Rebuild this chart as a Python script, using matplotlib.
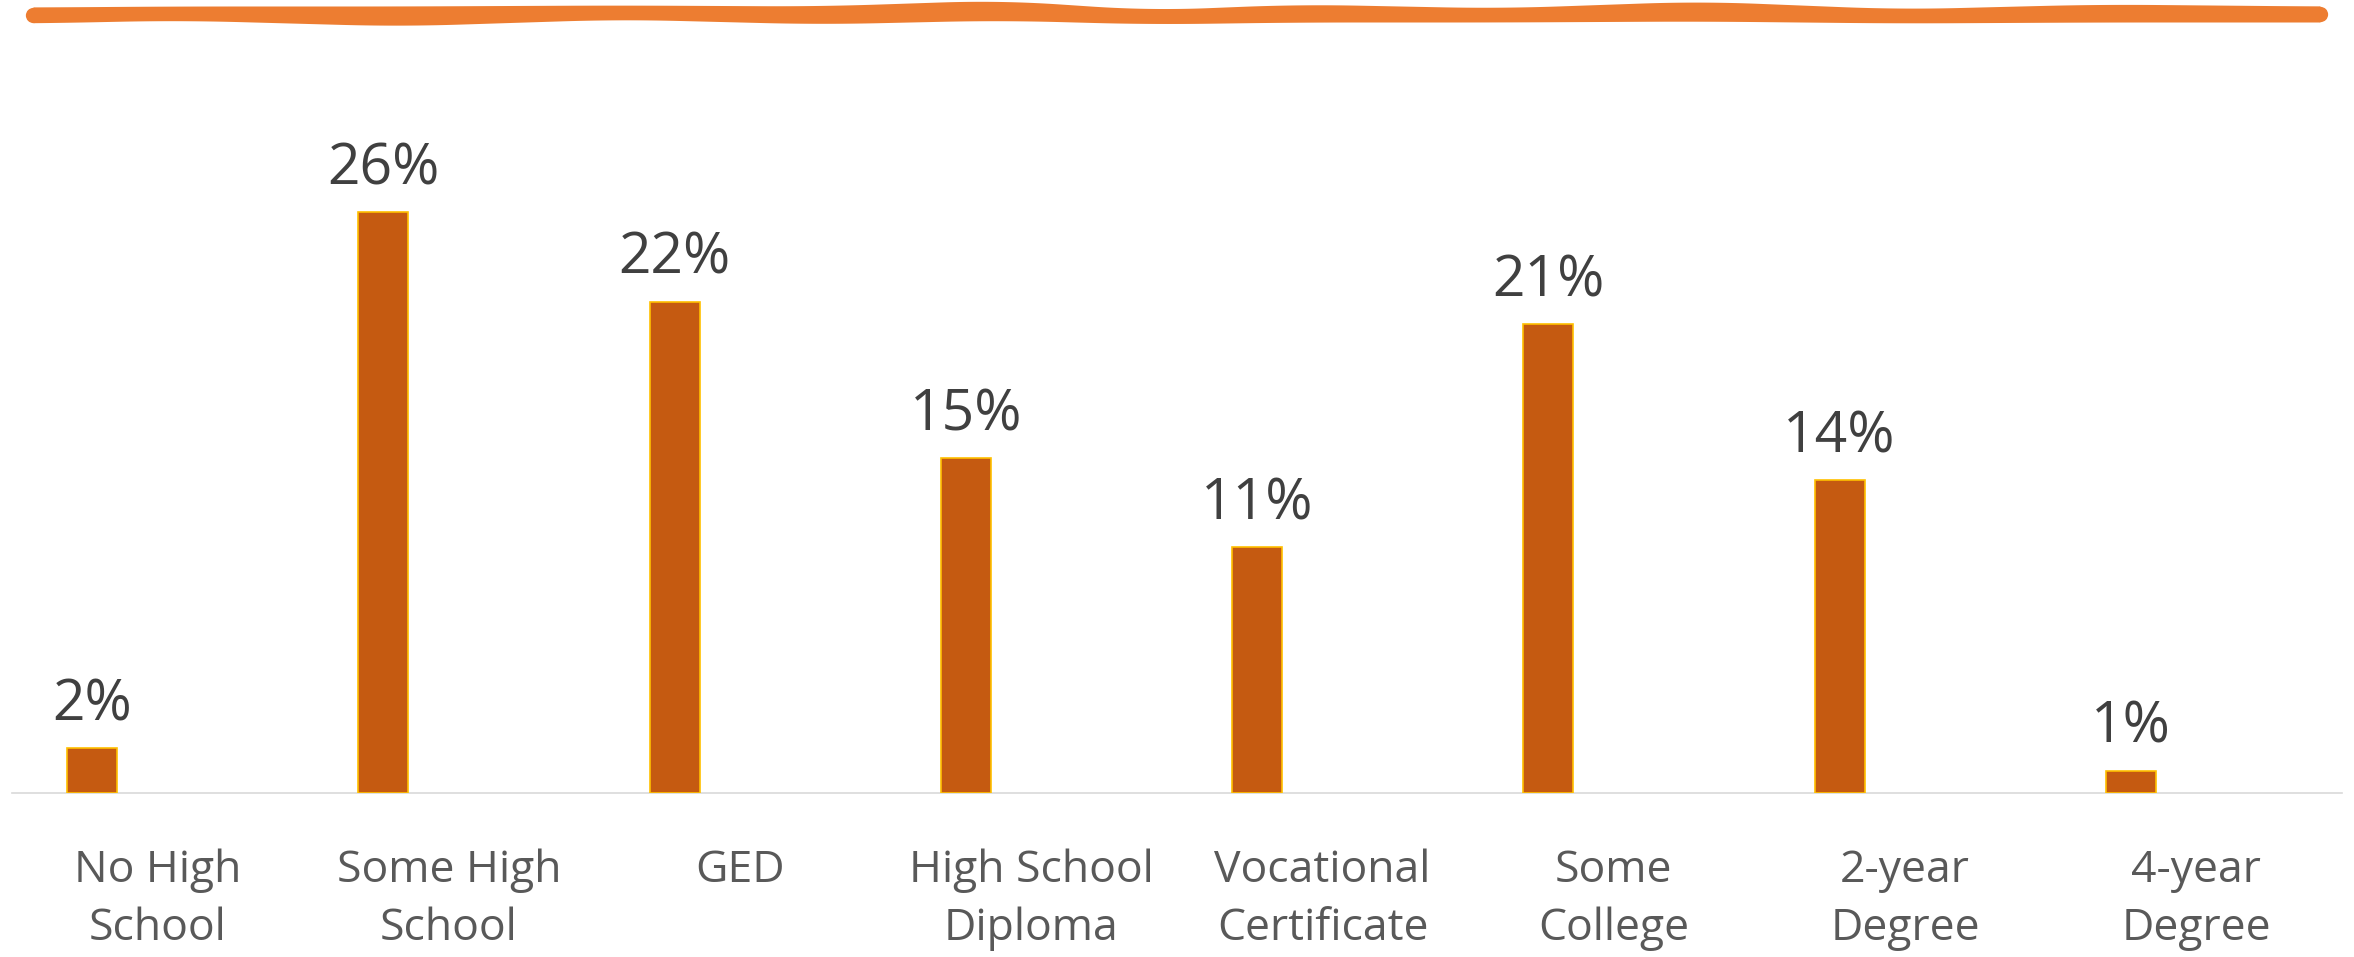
import numpy as np
import matplotlib
matplotlib.use("Agg")
import matplotlib.pyplot as plt

CATEGORIES = ["No High\nSchool", "Some High\nSchool", "GED", "High School\nDiploma",
              "Vocational\nCertificate", "Some\nCollege", "2-year\nDegree", "4-year\nDegree"]
SHARES = [2, 26, 22, 15, 11, 21, 14, 1]  # percent of respondents

WAVE_X = [33, 180, 400, 620, 820, 1000, 1150, 1300, 1500, 1700, 1900, 2100, 2320]
WAVE_Y = [15, 13, 16, 12, 15, 10, 17, 13, 15, 11, 16, 13, 14]
WAVE_HALF = [8, 7, 10, 7, 9, 10, 7, 9, 7, 10, 7, 9, 8]

plt.rcParams['font.family'] = ['Open Sans', 'DejaVu Sans']

W, H = 2354, 957
fig = plt.figure(figsize=(W / 100, H / 100), dpi=100)

# banner
ax_w = fig.add_axes([0, 0, 1, 1])
ax_w.set_xlim(0, W)
ax_w.set_ylim(H, 0)
ax_w.axis('off')
xs = np.linspace(WAVE_X[0], WAVE_X[-1], 600)
yc = np.interp(xs, WAVE_X, WAVE_Y)
hw = np.interp(xs, WAVE_X, WAVE_HALF)
k = np.ones(31) / 31
yc = np.convolve(np.pad(yc, 15, mode='edge'), k, mode='valid')
hw = np.convolve(np.pad(hw, 15, mode='edge'), k, mode='valid')
ax_w.fill_between(xs, yc - hw, yc + hw, color='#ED7D31', lw=0)
ax_w.plot(xs[[0, -1]], yc[[0, -1]], 'o', color='#ED7D31', ms=11, mew=0)

# bar chart
baseline_px, top_px = 793, 100
px_per_pct = 22.34
ax = fig.add_axes([12 / W, 1 - baseline_px / H, (2342 - 12) / W, (baseline_px - top_px) / H])
ax.set_xlim(-0.5, len(CATEGORIES) - 0.5)
ax.set_ylim(0, (baseline_px - top_px) / px_per_pct)

x = np.arange(len(CATEGORIES))
bars = ax.bar(x - 0.225, SHARES, width=0.172, color='#C55A11',
              edgecolor='#FFC000', linewidth=1.2, zorder=3)
for b, v in zip(bars, SHARES):
    ax.annotate(f"{v}%", (b.get_x() + b.get_width() / 2, v), xytext=(0, 20),
                textcoords='offset points', ha='center', va='baseline',
                fontsize=41, color='#404040')

ax.set_xticks(x)
ax.set_xticklabels(CATEGORIES, fontsize=32, color='#595959', linespacing=1.4)
ax.tick_params(axis='x', length=0, pad=40)
ax.set_yticks([])
for s in ['top', 'left', 'right']:
    ax.spines[s].set_visible(False)
ax.spines['bottom'].set_color('#D9D9D9')
ax.spines['bottom'].set_linewidth(1.2)
ax.patch.set_alpha(0)

fig.savefig('out.png', dpi=100)
